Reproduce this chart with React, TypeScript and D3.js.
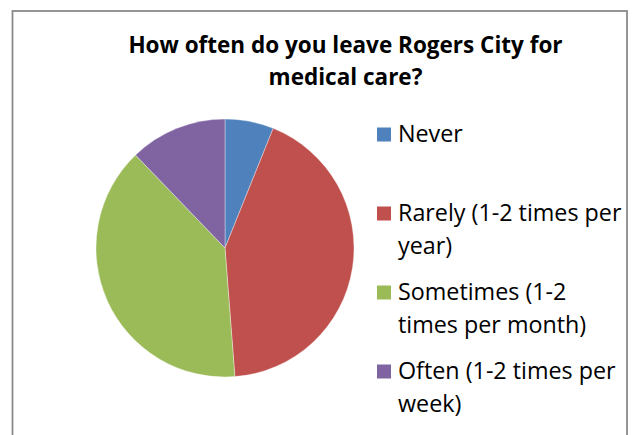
import { useEffect, useRef } from "react";
import * as d3 from "d3";

// survey answers (counts)
const categories = [
  "Never",
  "Rarely (1-2 times per year)",
  "Sometimes (1-2 times per month)",
  "Often (1-2 times per week)",
];
const counts = [5, 35, 32, 10];
const colors = ["#4F81BD", "#C0504D", "#9BBB59", "#8064A2"];
// legend text as it wraps in the original
const legendLines = [
  ["Never"],
  ["Rarely (1-2 times per", "year)"],
  ["Sometimes (1-2", "times per month)"],
  ["Often (1-2 times per", "week)"],
];
const titleLines = ["How often do you leave Rogers City for", "medical care?"];

interface Slice {
  name: string;
  value: number;
}

export default function App() {
  const svgRef = useRef<SVGSVGElement>(null);

  useEffect(() => {
    if (!svgRef.current) return;
    const width = 636;
    const height = 435;
    const font = "'Open Sans', Lato, sans-serif";

    d3.select(svgRef.current).selectAll("*").remove();
    const svg = d3
      .select(svgRef.current)
      .attr("width", width)
      .attr("height", height);

    // chart frame
    svg
      .append("rect")
      .attr("x", 12.5)
      .attr("y", 11)
      .attr("width", 614.5)
      .attr("height", 440)
      .attr("fill", "white")
      .attr("stroke", "#878787")
      .attr("stroke-width", 1.75);

    // title
    svg
      .append("text")
      .attr("text-anchor", "middle")
      .attr("font-family", font)
      .attr("font-weight", "bold")
      .attr("font-size", "22.5px")
      .attr("fill", "#000")
      .selectAll("tspan")
      .data(titleLines)
      .join("tspan")
      .attr("x", 345.5)
      .attr("y", (_, i) => 52.5 + i * 32)
      .text((d) => d);

    // pie
    const data: Slice[] = categories.map((c, i) => ({ name: c, value: counts[i] }));
    const pie = d3
      .pie<Slice>()
      .sort(null)
      .value((d) => d.value)
      .startAngle(0)
      .endAngle(2 * Math.PI);
    const radius = 129;
    const arc = d3.arc<d3.PieArcDatum<Slice>>().innerRadius(0).outerRadius(radius);
    const color = d3.scaleOrdinal<string>().domain(categories).range(colors);

    const g = svg.append("g").attr("transform", "translate(225,248)");
    g.selectAll("path")
      .data(pie(data))
      .join("path")
      .attr("d", arc as any)
      .attr("fill", (d) => color(d.data.name))
      .attr("stroke", "rgba(255,255,255,0.6)")
      .attr("stroke-width", 0.6);

    // legend
    const legendY = d3
      .scalePoint<string>()
      .domain(categories)
      .range([142, 379]);

    const legend = svg
      .append("g")
      .selectAll("g")
      .data(categories)
      .join("g");

    legend
      .append("rect")
      .attr("x", 377)
      .attr("y", (d) => legendY(d)! - 14.5)
      .attr("width", 14)
      .attr("height", 14)
      .attr("fill", (d) => color(d));

    legend
      .append("text")
      .attr("font-family", font)
      .attr("font-size", "23.3px")
      .attr("fill", "#000")
      .selectAll("tspan")
      .data((d, i) => legendLines[i].map((t) => ({ t, y: legendY(d)! })))
      .join("tspan")
      .attr("x", 398)
      .attr("y", (d, j) => d.y + j * 32.5)
      .text((d) => d.t);
  }, []);

  return (
    <svg
      ref={svgRef}
      style={{ position: "absolute", left: 0, top: 0, display: "block" }}
    ></svg>
  );
}
